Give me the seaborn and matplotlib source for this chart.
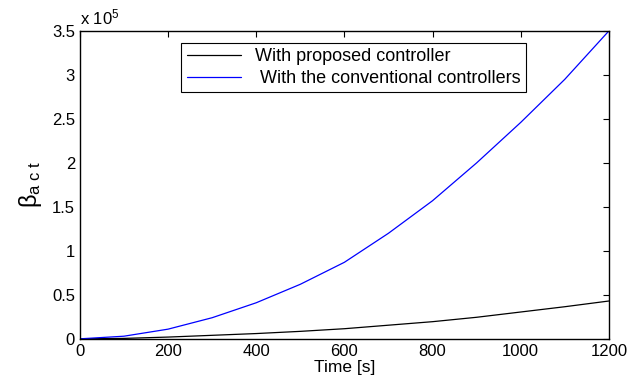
import seaborn as sns
import matplotlib.pyplot as plt
import pandas as pd

# data (beta_act in units of 1e5)
time_s = [0, 100, 200, 300, 400, 500, 600, 700, 800, 900, 1000, 1100, 1200]
proposed = [0, 0.005, 0.02, 0.04, 0.06, 0.085, 0.115, 0.155, 0.195, 0.245, 0.305, 0.365, 0.43]
conventional = [0, 0.03, 0.11, 0.24, 0.41, 0.62, 0.87, 1.20, 1.57, 2.0, 2.46, 2.95, 3.5]
labels = ["With proposed controller", " With the conventional controllers"]

df = pd.DataFrame({
    "time": time_s * 2,
    "beta": proposed + conventional,
    "series": [labels[0]] * len(time_s) + [labels[1]] * len(time_s),
})

sns.set_style("white")
plt.rcParams["font.family"] = ["Liberation Sans", "DejaVu Sans"]
plt.rcParams["mathtext.fontset"] = "custom"
plt.rcParams["mathtext.rm"] = "Liberation Sans"
plt.rcParams["mathtext.it"] = "Liberation Sans"
plt.rcParams["text.color"] = "black"
plt.rcParams["axes.labelcolor"] = "black"

fig, ax = plt.subplots(figsize=(6.29, 3.82), dpi=100)
sns.lineplot(data=df, x="time", y="beta", hue="series", palette=["black", "blue"],
             linewidth=0.9, ax=ax)

ax.set_xlim(0, 1200)
ax.set_ylim(0, 3.5)
ax.set_xticks(range(0, 1201, 200))
ax.set_yticks([0, 0.5, 1, 1.5, 2, 2.5, 3, 3.5])
ax.set_yticklabels(["0", "0.5", "1", "1.5", "2", "2.5", "3", "3.5"])
ax.tick_params(direction="in", top=True, right=True, length=4, labelsize=12,
               colors="black", width=0.8)
for s in ax.spines.values():
    s.set_color("black")
    s.set_linewidth(1.0)

ax.set_xlabel("Time [s]", fontsize=12.5, labelpad=1)
ax.set_ylabel(r"$\beta_{a\ c\ t}$", fontsize=17, labelpad=6)
ax.text(0.0, 1.012, r"x 10$^5$", transform=ax.transAxes, fontsize=12, va="bottom")

leg = ax.legend(loc="upper center", bbox_to_anchor=(0.518, 0.99), fontsize=13,
                fancybox=False, framealpha=1, edgecolor="black", borderpad=0.3,
                handlelength=3.0, labelspacing=0.25)
leg.get_frame().set_linewidth(0.8)

fig.subplots_adjust(left=0.127, right=0.968, top=0.919, bottom=0.113)
fig.savefig("out.png", dpi=100)
